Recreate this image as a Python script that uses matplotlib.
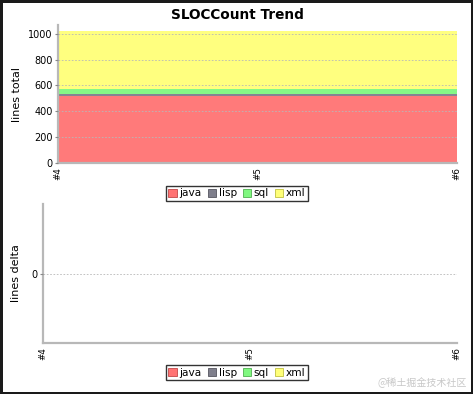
import matplotlib
matplotlib.use("Agg")
import matplotlib.pyplot as plt
from matplotlib.patches import Patch

# === data ===
builds = ["#4", "#5", "#6"]
languages = ["java", "lisp", "sql", "xml"]
java_total = [515, 515, 515]
lisp_total = [20, 20, 20]
sql_total = [35, 35, 35]
xml_total = [450, 450, 450]
java_delta = [0, 0, 0]
lisp_delta = [0, 0, 0]
sql_delta = [0, 0, 0]
xml_delta = [0, 0, 0]

colors = ["#ff7373", "#7f7f8c", "#80f880", "#ffff78"]
edge_colors = ["#c04848", "#55555f", "#50b050", "#c0c040"]
spine_color = "#b8b8b8"
W, H = 473, 394

plt.rcParams["font.family"] = ["DejaVu Sans"]

fig = plt.figure(figsize=(W / 100, H / 100), dpi=100,
                 edgecolor="#1a1a1a", linewidth=2.5)


def ax_rect(left, top, right, bottom):
    return [left / W, 1 - bottom / H, (right - left) / W, (bottom - top) / H]


def style_axes(ax):
    for s in ["top", "right"]:
        ax.spines[s].set_visible(False)
    for s in ["left", "bottom"]:
        ax.spines[s].set_color(spine_color)
        ax.spines[s].set_linewidth(1.6)
    ax.tick_params(axis="y", labelsize=7, length=2, color="#888888", pad=2)
    ax.tick_params(axis="x", labelsize=6.3, length=0, pad=3, labelrotation=90)
    ax.set_xticks(range(len(builds)))
    ax.set_xticklabels(builds)
    ax.set_xlim(0, len(builds) - 1)
    ax.grid(axis="y", color="#b8b8b8", linestyle=(0, (2, 2)), linewidth=0.6)
    ax.set_axisbelow(False)


def add_legend(y_px):
    handles = [Patch(facecolor=c, edgecolor=e, linewidth=0.6, label=l)
               for c, e, l in zip(colors, edge_colors, languages)]
    leg = fig.legend(handles=handles, loc="center", ncol=4,
                     bbox_to_anchor=(237 / W, 1 - y_px / H),
                     fontsize=7.6, frameon=True, fancybox=False,
                     edgecolor="black", handlelength=0.8, handleheight=0.8,
                     handletextpad=0.25, columnspacing=0.55, borderpad=0.25,
                     borderaxespad=0)
    leg.get_frame().set_linewidth(1.0)


# === top chart: totals ===
ax1 = fig.add_axes(ax_rect(58, 25, 457, 163))
ax1.stackplot(range(len(builds)), java_total, lisp_total, sql_total, xml_total,
              colors=colors, labels=languages, alpha=0.95, linewidth=0)
style_axes(ax1)
ax1.set_ylim(0, 1067)
ax1.set_yticks([0, 200, 400, 600, 800, 1000])
ax1.set_ylabel("lines total", fontsize=8)
ax1.yaxis.set_label_coords(-0.09, 0.5)
fig.text(237 / W, 1 - 15 / H, "SLOCCount Trend", ha="center", va="center",
         fontsize=9.8, fontweight="bold")
add_legend(193.5)

# === bottom chart: deltas ===
ax2 = fig.add_axes(ax_rect(43, 204, 457, 343))
ax2.stackplot(range(len(builds)), java_delta, lisp_delta, sql_delta, xml_delta,
              colors=colors, labels=languages, linewidth=0)
style_axes(ax2)
ax2.set_ylim(-1, 1)
ax2.set_yticks([0])
ax2.set_ylabel("lines delta", fontsize=8)
ax2.yaxis.set_label_coords(-0.053, 0.5)
add_legend(372.5)

fig.text(467 / W, 1 - 383 / H, "@稀土掘金技术社区", ha="right", va="center",
         fontsize=7.2, color="#c8c8c8",
         family=["Noto Sans CJK SC", "DejaVu Sans"])

fig.savefig("out.png", dpi=100)
